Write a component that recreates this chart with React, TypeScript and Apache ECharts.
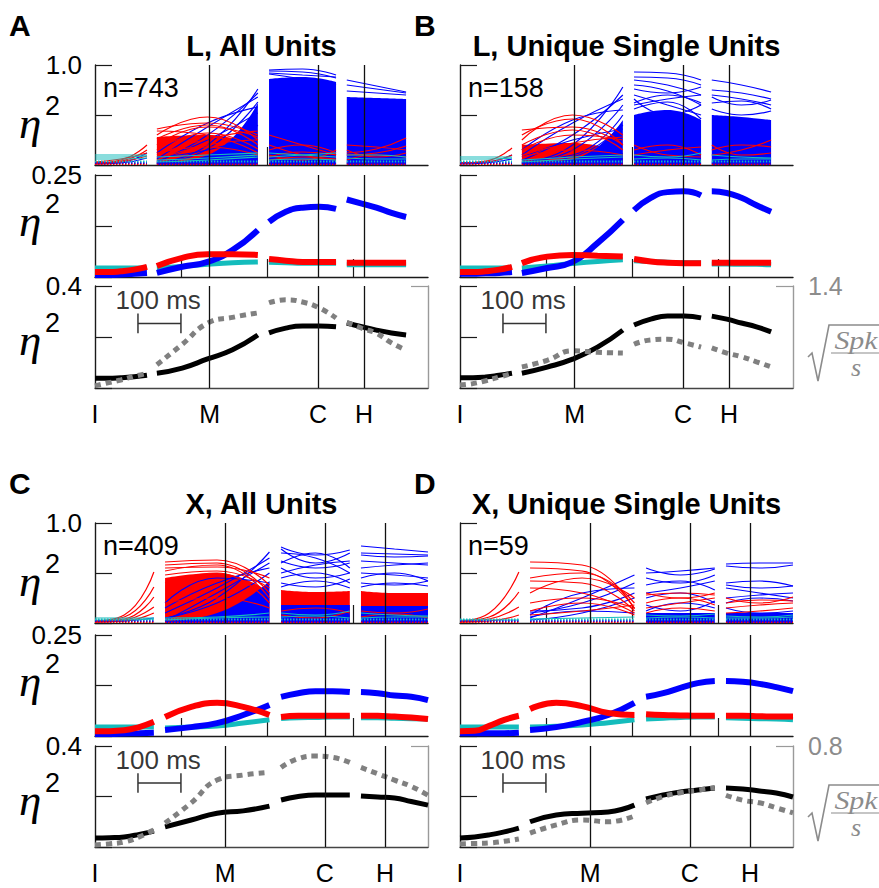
import React, { useEffect, useRef } from 'react';
import * as echarts from 'echarts';

// ---------- axes / sampling positions (ms after I) ----------
const X_MAX = 775;
const X_TICKS = [200, 400, 600];
const L_SEG3 = [[0, 60, 121], [144, 262, 379], [405, 483, 561], [586, 655, 724]];
const X_SEG3 = [[0, 68, 137], [163, 284, 406], [433, 513, 593], [619, 697, 775]];
const L_SEG5 = [[0, 30, 60, 91, 121], [144, 203, 262, 320, 379], [405, 444, 483, 522, 561], [586, 621, 655, 690, 724]];
const X_SEG5 = [[0, 34, 68, 103, 137], [163, 224, 284, 345, 406], [433, 473, 513, 553, 593], [619, 658, 697, 736, 775]];
const L_EVENTS = [267, 519, 626];
const X_EVENTS = [303, 535, 675];
const EVENT_NAMES = ['I', 'M', 'C', 'H'];
const Y_MAX = [1.0, 0.25, 0.4];
const Y_TOP_LABELS = ['1.0', '0.25', '0.4'];
const FLOOR_LEVELS = [0.01, 0.022, 0.034];
const SCALE_BAR_X = [100, 200];
const SCALE_BAR_Y = [0.215, 0.253, 0.292];
const SCALE_TEXT_POS = [147, 0.345];

// ---------- Panel A: L, all units ----------
// rows: [segment, start, middle, end]
const aBandRed = [[1, 0.28, 0.3, 0.18]];
const aBandBlue = [[1, 0.02, 0.1, 0.62], [2, 0.86, 0.88, 0.83], [3, 0.68, 0.67, 0.66]];
const aBlue = [
  [0, 0.02, 0.03, 0.12], [0, 0.01, 0.02, 0.07],
  [1, 0.02, 0.2, 0.76], [1, 0.03, 0.3, 0.72], [1, 0.06, 0.38, 0.68], [1, 0.02, 0.16, 0.63], [1, 0.12, 0.42, 0.58], [1, 0.04, 0.25, 0.52], [1, 0.02, 0.06, 0.4], [1, 0.08, 0.15, 0.3],
  [2, 0.95, 0.96, 0.9], [2, 0.94, 0.93, 0.87], [2, 0.92, 0.9, 0.88], [2, 0.91, 0.86, 0.8],
  [3, 0.85, 0.79, 0.73], [3, 0.8, 0.76, 0.72], [3, 0.74, 0.72, 0.7],
];
const aRed = [
  [0, 0.02, 0.05, 0.2], [0, 0.02, 0.04, 0.15], [0, 0.03, 0.06, 0.12], [0, 0.01, 0.03, 0.09],
  [1, 0.3, 0.48, 0.25], [1, 0.36, 0.42, 0.3], [1, 0.26, 0.4, 0.2], [1, 0.2, 0.38, 0.28], [1, 0.15, 0.32, 0.16], [1, 0.1, 0.26, 0.34], [1, 0.05, 0.2, 0.25], [1, 0.34, 0.3, 0.12], [1, 0.12, 0.18, 0.1],
  [2, 0.3, 0.2, 0.1], [2, 0.15, 0.2, 0.12], [2, 0.1, 0.05, 0.15], [2, 0.08, 0.13, 0.1], [2, 0.2, 0.1, 0.05], [2, 0.05, 0.08, 0.06],
  [3, 0.12, 0.16, 0.27], [3, 0.2, 0.18, 0.15], [3, 0.1, 0.12, 0.19], [3, 0.05, 0.1, 0.08], [3, 0.15, 0.08, 0.12],
];
const aCyan = [
  [0, 0.1, 0.1, 0.1], [0, 0.08, 0.08, 0.09], [0, 0.06, 0.06, 0.07],
  [1, 0.05, 0.07, 0.1], [1, 0.08, 0.1, 0.12], [1, 0.03, 0.05, 0.08],
  [2, 0.12, 0.1, 0.08], [2, 0.08, 0.1, 0.12], [2, 0.05, 0.06, 0.05],
  [3, 0.1, 0.1, 0.08], [3, 0.07, 0.06, 0.06],
];
const aMidBlue = [[0.005, 0.005, 0.006, 0.008, 0.01], [0.01, 0.025, 0.037, 0.066, 0.115], [0.135, 0.16, 0.17, 0.172, 0.167], [0.19, 0.18, 0.17, 0.157, 0.147]];
const aMidRed = [[0.012, 0.012, 0.014, 0.018, 0.025], [0.027, 0.047, 0.056, 0.056, 0.054], [0.044, 0.04, 0.037, 0.037, 0.037], [0.035, 0.035, 0.035, 0.035, 0.035]];
const aMidCyan = [[0.022, 0.022, 0.022, 0.022, 0.022], [0.022, 0.026, 0.031, 0.035, 0.037], [0.036, 0.035, 0.034, 0.034, 0.034], [0.03, 0.03, 0.03, 0.03, 0.03]];
const aBlack = [[0.038, 0.038, 0.04, 0.044, 0.05], [0.058, 0.078, 0.114, 0.15, 0.208], [0.216, 0.235, 0.243, 0.243, 0.24], [0.255, 0.24, 0.227, 0.216, 0.208]];
const aGray = [[0.03, 0.07, 0.11, 0.16, 0.2], [0.32, 0.6, 0.89, 0.97, 1.03], [1.17, 1.21, 1.18, 1.1, 0.96], [0.9, 0.82, 0.75, 0.62, 0.52]];

// ---------- Panel B: L, unique single units ----------
const bBandRed = [[1, 0.2, 0.22, 0.12]];
const bBandBlue = [[1, 0.02, 0.06, 0.45], [2, 0.5, 0.55, 0.45], [3, 0.5, 0.48, 0.45]];
const bBlue = [
  [0, 0.02, 0.03, 0.1], [0, 0.01, 0.02, 0.06],
  [1, 0.02, 0.2, 0.78], [1, 0.05, 0.3, 0.7], [1, 0.1, 0.42, 0.66], [1, 0.03, 0.15, 0.6], [1, 0.05, 0.1, 0.5], [1, 0.15, 0.45, 0.55], [1, 0.02, 0.08, 0.4], [1, 0.08, 0.25, 0.36],
  [2, 0.93, 0.92, 0.85], [2, 0.88, 0.87, 0.8], [2, 0.85, 0.8, 0.7], [2, 0.8, 0.74, 0.6], [2, 0.76, 0.72, 0.78], [2, 0.7, 0.6, 0.5], [2, 0.6, 0.66, 0.7], [2, 0.66, 0.5, 0.6], [2, 0.56, 0.63, 0.46], [2, 0.62, 0.7, 0.62],
  [3, 0.85, 0.8, 0.73], [3, 0.75, 0.72, 0.66], [3, 0.68, 0.6, 0.65], [3, 0.62, 0.64, 0.56], [3, 0.56, 0.5, 0.54], [3, 0.7, 0.66, 0.6],
];
const bRed = [
  [0, 0.02, 0.04, 0.17], [0, 0.02, 0.03, 0.1],
  [1, 0.3, 0.46, 0.2], [1, 0.25, 0.5, 0.3], [1, 0.35, 0.38, 0.2], [1, 0.2, 0.35, 0.15], [1, 0.15, 0.3, 0.25], [1, 0.1, 0.22, 0.28], [1, 0.08, 0.15, 0.1],
  [2, 0.15, 0.2, 0.1], [2, 0.1, 0.15, 0.18], [2, 0.2, 0.1, 0.08],
  [3, 0.15, 0.2, 0.18], [3, 0.1, 0.15, 0.25], [3, 0.2, 0.1, 0.12],
];
const bCyan = [
  [0, 0.08, 0.08, 0.08], [0, 0.06, 0.06, 0.07],
  [1, 0.05, 0.08, 0.1], [1, 0.03, 0.06, 0.08],
  [2, 0.1, 0.08, 0.12], [2, 0.06, 0.07, 0.05],
  [3, 0.1, 0.08, 0.07], [3, 0.05, 0.06, 0.06],
];
const bMidBlue = [[0.008, 0.008, 0.009, 0.01, 0.012], [0.01, 0.022, 0.037, 0.083, 0.14], [0.164, 0.194, 0.208, 0.21, 0.2], [0.21, 0.206, 0.194, 0.176, 0.16]];
const bMidRed = [[0.012, 0.012, 0.014, 0.018, 0.025], [0.034, 0.05, 0.054, 0.052, 0.05], [0.044, 0.038, 0.035, 0.034, 0.034], [0.035, 0.035, 0.035, 0.035, 0.035]];
const bMidCyan = [[0.022, 0.022, 0.022, 0.022, 0.022], [0.022, 0.027, 0.033, 0.038, 0.042], [0.04, 0.038, 0.036, 0.035, 0.035], [0.032, 0.032, 0.031, 0.031, 0.03]];
const bBlack = [[0.04, 0.04, 0.043, 0.05, 0.058], [0.058, 0.082, 0.113, 0.16, 0.227], [0.247, 0.27, 0.282, 0.282, 0.275], [0.282, 0.27, 0.255, 0.24, 0.22]];
const bGray = [[0.04, 0.06, 0.1, 0.15, 0.2], [0.29, 0.38, 0.51, 0.49, 0.48], [0.6, 0.66, 0.67, 0.62, 0.56], [0.55, 0.48, 0.43, 0.36, 0.29]];

// ---------- Panel C: X, all units ----------
const cBandRed = [[1, 0.45, 0.5, 0.3], [2, 0.33, 0.31, 0.32], [3, 0.32, 0.3, 0.3]];
const cBandBlue = [[1, 0.02, 0.1, 0.42], [2, 0.18, 0.18, 0.18], [3, 0.17, 0.17, 0.17]];
const cBlue = [
  [0, 0.01, 0.02, 0.05],
  [1, 0.05, 0.25, 0.71], [1, 0.1, 0.35, 0.65], [1, 0.02, 0.3, 0.6], [1, 0.15, 0.4, 0.55], [1, 0.05, 0.2, 0.5], [1, 0.2, 0.45, 0.4],
  [2, 0.76, 0.68, 0.73], [2, 0.74, 0.6, 0.7], [2, 0.7, 0.65, 0.5], [2, 0.62, 0.55, 0.6], [2, 0.6, 0.7, 0.55], [2, 0.55, 0.45, 0.5], [2, 0.5, 0.58, 0.62], [2, 0.45, 0.5, 0.4], [2, 0.4, 0.36, 0.44], [2, 0.36, 0.42, 0.35],
  [3, 0.77, 0.74, 0.71], [3, 0.7, 0.69, 0.68], [3, 0.68, 0.66, 0.67], [3, 0.62, 0.6, 0.58], [3, 0.55, 0.58, 0.6], [3, 0.5, 0.48, 0.45], [3, 0.45, 0.5, 0.42], [3, 0.4, 0.38, 0.42], [3, 0.36, 0.4, 0.37],
];
const cRed = [
  [0, 0.02, 0.08, 0.51], [0, 0.02, 0.06, 0.36], [0, 0.02, 0.04, 0.26], [0, 0.01, 0.03, 0.16], [0, 0.01, 0.02, 0.1],
  [1, 0.61, 0.63, 0.38], [1, 0.58, 0.6, 0.3], [1, 0.55, 0.56, 0.45], [1, 0.52, 0.58, 0.25], [1, 0.48, 0.52, 0.35], [1, 0.4, 0.5, 0.2], [1, 0.2, 0.25, 0.15],
  [2, 0.12, 0.15, 0.1], [2, 0.08, 0.05, 0.12],
  [3, 0.12, 0.1, 0.14], [3, 0.06, 0.09, 0.05],
];
const cCyan = [
  [0, 0.05, 0.05, 0.05], [0, 0.03, 0.03, 0.04],
  [1, 0.05, 0.06, 0.1], [1, 0.03, 0.05, 0.06],
  [2, 0.1, 0.08, 0.12], [2, 0.06, 0.07, 0.05],
  [3, 0.1, 0.08, 0.07], [3, 0.05, 0.06, 0.06],
];
const cMidBlue = [[0.005, 0.005, 0.006, 0.007, 0.008], [0.015, 0.022, 0.032, 0.052, 0.077], [0.097, 0.106, 0.111, 0.111, 0.109], [0.109, 0.106, 0.1, 0.097, 0.089]];
const cMidRed = [[0.012, 0.012, 0.014, 0.022, 0.035], [0.047, 0.072, 0.082, 0.072, 0.052], [0.047, 0.05, 0.05, 0.05, 0.05], [0.05, 0.05, 0.048, 0.046, 0.042]];
const cMidCyan = [[0.022, 0.022, 0.022, 0.022, 0.022], [0.02, 0.022, 0.025, 0.032, 0.04], [0.043, 0.045, 0.046, 0.047, 0.047], [0.045, 0.045, 0.044, 0.043, 0.042]];
const cBlack = [[0.036, 0.037, 0.04, 0.05, 0.063], [0.08, 0.107, 0.134, 0.143, 0.162], [0.186, 0.2, 0.206, 0.206, 0.206], [0.202, 0.198, 0.194, 0.18, 0.166]];
const cGray = [[0.016, 0.025, 0.04, 0.08, 0.135], [0.19, 0.35, 0.53, 0.57, 0.59], [0.63, 0.7, 0.72, 0.71, 0.67], [0.63, 0.58, 0.53, 0.48, 0.41]];

// ---------- Panel D: X, unique single units ----------
const dBandRed: number[][] = [];
const dBandBlue = [[2, 0.1, 0.1, 0.1], [3, 0.1, 0.1, 0.1]];
const dBlue = [
  [1, 0.05, 0.25, 0.48], [1, 0.1, 0.2, 0.4], [1, 0.08, 0.3, 0.35], [1, 0.12, 0.15, 0.3], [1, 0.03, 0.1, 0.25], [1, 0.06, 0.12, 0.1],
  [2, 0.55, 0.48, 0.54], [2, 0.5, 0.52, 0.55], [2, 0.45, 0.4, 0.48], [2, 0.38, 0.42, 0.33], [2, 0.3, 0.35, 0.42], [2, 0.25, 0.3, 0.2], [2, 0.18, 0.12, 0.22], [2, 0.12, 0.2, 0.15],
  [3, 0.59, 0.6, 0.6], [3, 0.57, 0.55, 0.58], [3, 0.4, 0.42, 0.37], [3, 0.38, 0.35, 0.37], [3, 0.35, 0.3, 0.25], [3, 0.25, 0.28, 0.3], [3, 0.2, 0.25, 0.22], [3, 0.15, 0.1, 0.12],
];
const dRed = [
  [0, 0.02, 0.1, 0.51], [0, 0.02, 0.06, 0.31], [0, 0.01, 0.04, 0.16], [0, 0.01, 0.02, 0.08],
  [1, 0.61, 0.58, 0.14], [1, 0.55, 0.52, 0.15], [1, 0.45, 0.5, 0.2], [1, 0.42, 0.4, 0.12], [1, 0.3, 0.45, 0.25], [1, 0.35, 0.3, 0.1], [1, 0.2, 0.25, 0.15], [1, 0.12, 0.2, 0.08], [1, 0.08, 0.12, 0.18],
  [2, 0.3, 0.25, 0.3], [2, 0.28, 0.3, 0.28], [2, 0.2, 0.25, 0.18], [2, 0.15, 0.2, 0.25], [2, 0.1, 0.15, 0.12],
  [3, 0.25, 0.2, 0.26], [3, 0.2, 0.23, 0.22], [3, 0.15, 0.18, 0.2], [3, 0.1, 0.12, 0.15],
];
const dCyan = [
  [0, 0.03, 0.03, 0.03], [1, 0.04, 0.05, 0.06], [2, 0.08, 0.07, 0.09], [2, 0.05, 0.06, 0.05], [3, 0.07, 0.06, 0.08], [3, 0.05, 0.05, 0.06],
];
const dMidBlue = [[0.007, 0.007, 0.007, 0.007, 0.008], [0.015, 0.022, 0.035, 0.052, 0.082], [0.097, 0.106, 0.119, 0.131, 0.136], [0.136, 0.134, 0.129, 0.121, 0.111]];
const dMidRed = [[0.012, 0.013, 0.025, 0.04, 0.05], [0.067, 0.082, 0.074, 0.057, 0.052], [0.054, 0.052, 0.051, 0.05, 0.05], [0.05, 0.05, 0.049, 0.048, 0.048]];
const dMidCyan = [[0.022, 0.022, 0.022, 0.022, 0.022], [0.022, 0.024, 0.027, 0.033, 0.04], [0.042, 0.044, 0.046, 0.047, 0.047], [0.045, 0.044, 0.043, 0.042, 0.04]];
const dBlack = [[0.036, 0.04, 0.048, 0.06, 0.075], [0.1, 0.127, 0.134, 0.139, 0.166], [0.19, 0.206, 0.218, 0.226, 0.234], [0.234, 0.23, 0.222, 0.214, 0.198]];
const dGray = [[0.024, 0.028, 0.032, 0.045, 0.063], [0.11, 0.175, 0.214, 0.2, 0.246], [0.35, 0.4, 0.43, 0.45, 0.47], [0.41, 0.37, 0.35, 0.31, 0.27]];

// ---------- panel descriptions ----------
const PANELS = [
  { letter: 'A', title: 'L, All Units', n: 'n=743', col: 0, row: 0, seg3: L_SEG3, seg5: L_SEG5, events: L_EVENTS, rMax: 1.4, rLabel: false,
    bandBlue: aBandBlue, bandRed: aBandRed, blue: aBlue, red: aRed, cyan: aCyan, midBlue: aMidBlue, midRed: aMidRed, midCyan: aMidCyan, black: aBlack, gray: aGray },
  { letter: 'B', title: 'L, Unique Single Units', n: 'n=158', col: 1, row: 0, seg3: L_SEG3, seg5: L_SEG5, events: L_EVENTS, rMax: 1.4, rLabel: true,
    bandBlue: bBandBlue, bandRed: bBandRed, blue: bBlue, red: bRed, cyan: bCyan, midBlue: bMidBlue, midRed: bMidRed, midCyan: bMidCyan, black: bBlack, gray: bGray },
  { letter: 'C', title: 'X, All Units', n: 'n=409', col: 0, row: 1, seg3: X_SEG3, seg5: X_SEG5, events: X_EVENTS, rMax: 0.8, rLabel: false,
    bandBlue: cBandBlue, bandRed: cBandRed, blue: cBlue, red: cRed, cyan: cCyan, midBlue: cMidBlue, midRed: cMidRed, midCyan: cMidCyan, black: cBlack, gray: cGray },
  { letter: 'D', title: 'X, Unique Single Units', n: 'n=59', col: 1, row: 1, seg3: X_SEG3, seg5: X_SEG5, events: X_EVENTS, rMax: 0.8, rLabel: true,
    bandBlue: dBandBlue, bandRed: dBandRed, blue: dBlue, red: dRed, cyan: dCyan, midBlue: dMidBlue, midRed: dMidRed, midCyan: dMidCyan, black: dBlack, gray: dGray },
];

// ---------- layout & style ----------
const COL_LEFT = [95, 460];
const PLOT_W = 333;
const ROW_BOXES = [
  [[65, 100], [175, 102], [286, 102]],
  [[523, 100], [635, 101], [746, 101]],
];
const LETTER_X = [9, 414];
const ETA_OFFSET = [8, -5, 3];
const SANS = '"Liberation Sans", Arial, Helvetica, sans-serif';
const SERIF = '"Liberation Serif", "DejaVu Serif", serif';
const BLUE = '#0000ff';
const RED = '#ff0000';
const CYAN = '#14bcbc';
const GRAY = '#808080';
const AXIS = '#1a1a1a';
const TEXT = '#000';
const RIGHT_GRAY = '#8c8c8c';

const pts = (xs: number[], ys: number[]) => xs.map((x, i) => [x, ys[i]]);

function buildOption() {
  const grid: any[] = [];
  const xAxis: any[] = [];
  const yAxis: any[] = [];
  const series: any[] = [];
  const graphic: any[] = [];

  PANELS.forEach((p, pi) => {
    const left = COL_LEFT[p.col];
    ROW_BOXES[p.row].forEach(([top, h], r) => {
      const gi = pi * 3 + r;
      grid.push({ left, top, width: PLOT_W, height: h, containLabel: false });
      const xVals = [0, ...p.events];
      xAxis.push({
        type: 'value', gridIndex: gi, min: 0, max: X_MAX,
        axisLine: { show: true, onZero: false, lineStyle: { color: r === 2 ? '#444' : AXIS, width: 1.4 } },
        axisTick: { show: r < 2, inside: true, length: 18, customValues: X_TICKS, lineStyle: { color: AXIS, width: 1.2 } },
        axisLabel: {
          show: r === 2, customValues: xVals,
          formatter: (v: number) => { const k = xVals.indexOf(v); return k >= 0 ? EVENT_NAMES[k] : ''; },
          fontSize: 25, fontFamily: SANS, color: TEXT, margin: 13,
        },
        splitLine: { show: false },
      });
      yAxis.push({
        type: 'value', gridIndex: gi, min: 0, max: Y_MAX[r],
        axisLine: { show: true, onZero: false, lineStyle: { color: AXIS, width: 1.4 } },
        axisTick: { show: true, inside: true, length: 17, customValues: [0, Y_MAX[r] / 2, Y_MAX[r]], lineStyle: { color: AXIS, width: 1.2 } },
        axisLabel: {
          show: p.col === 0, customValues: [Y_MAX[r]], formatter: () => Y_TOP_LABELS[r],
          fontSize: 26, fontFamily: SANS, color: TEXT, margin: 13,
        },
        splitLine: { show: false },
      });
      if (p.col === 0) {
        const cy = top + h / 2 + ETA_OFFSET[r];
        graphic.push({ type: 'text', x: left - 76, y: cy, style: { text: 'η', fontSize: 45, fontStyle: 'italic', fontFamily: SERIF, fill: TEXT, align: 'left', verticalAlign: 'middle' } });
        graphic.push({ type: 'text', x: left - 50, y: cy - 17, style: { text: '2', fontSize: 27, fontFamily: SANS, fill: TEXT, align: 'left', verticalAlign: 'middle' } });
      }
    });
  });

  PANELS.forEach((p, pi) => {
    yAxis.push({
      type: 'value', gridIndex: pi * 3 + 2, position: 'right', min: 0, max: p.rMax,
      axisLine: { show: true, onZero: false, lineStyle: { color: '#9a9a9a', width: 1.4 } },
      axisTick: { show: true, inside: true, length: 17, customValues: [p.rMax], lineStyle: { color: '#9a9a9a', width: 1.2 } },
      axisLabel: { show: p.rLabel, customValues: [p.rMax], formatter: () => String(p.rMax), fontSize: 25, fontFamily: SANS, color: RIGHT_GRAY, margin: 15 },
      splitLine: { show: false },
    });
  });

  const base = (gi: number, yi: number = gi) => ({
    type: 'line', xAxisIndex: gi, yAxisIndex: yi, symbol: 'none', showSymbol: false, silent: true, smooth: true,
    emphasis: { disabled: true },
  });

  PANELS.forEach((p, pi) => {
    const gTop = pi * 3;
    const gMid = pi * 3 + 1;
    const gBot = pi * 3 + 2;
    const eventMark = (z: number, gi: number) => ({
      ...base(gi), z, data: [[0, 0]], lineStyle: { width: 0 },
      markLine: {
        symbol: ['none', 'none'], silent: true, label: { show: false },
        lineStyle: { color: '#111', width: 1.3, type: 'solid' },
        emphasis: { disabled: true },
        data: p.events.map((x) => ({ xAxis: x })),
      },
    });
    const seg3Row = (row: number[]) => pts(p.seg3[row[0]], row.slice(1));

    // ----- top: individual units -----
    p.bandRed.forEach((row) => series.push({ ...base(gTop), data: seg3Row(row), lineStyle: { width: 0 }, areaStyle: { color: RED, opacity: 1 } }));
    p.bandBlue.forEach((row) => series.push({ ...base(gTop), data: seg3Row(row), lineStyle: { width: 0 }, areaStyle: { color: BLUE, opacity: 1 } }));
    p.blue.forEach((row) => series.push({ ...base(gTop), data: seg3Row(row), lineStyle: { width: 1.2, color: BLUE } }));
    p.red.forEach((row) => series.push({ ...base(gTop), data: seg3Row(row), lineStyle: { width: 1.2, color: RED } }));
    p.cyan.forEach((row) => series.push({ ...base(gTop), data: seg3Row(row), lineStyle: { width: 1.2, color: CYAN } }));
    const floorColors = [RED, BLUE, CYAN];
    p.seg3.forEach((xs) => {
      FLOOR_LEVELS.forEach((lv, k) => series.push({ ...base(gTop), smooth: false, data: pts(xs, [lv, lv, lv]), lineStyle: { width: 2, color: floorColors[k], type: [1.5, 1.5] } }));
    });
    series.push(eventMark(3, gTop));

    // ----- middle: mean eta^2 -----
    series.push(eventMark(1, gMid));
    const mid = [[p.midCyan, CYAN, 5], [p.midBlue, BLUE, 6], [p.midRed, RED, 6]] as const;
    mid.forEach(([vals, color, w]) => {
      (vals as number[][]).forEach((ys, s) => series.push({ ...base(gMid), data: pts(p.seg5[s], ys), lineStyle: { width: w, color, cap: 'butt' } }));
    });

    // ----- bottom: total eta^2 and rate -----
    series.push(eventMark(1, gBot));
    p.black.forEach((ys, s) => series.push({ ...base(gBot), data: pts(p.seg5[s], ys), lineStyle: { width: 5, color: '#000', cap: 'butt' } }));
    p.gray.forEach((ys, s) => series.push({ ...base(gBot, 12 + pi), data: pts(p.seg5[s], ys), lineStyle: { width: 5, color: GRAY, type: [6, 5], cap: 'butt' } }));
    series.push({
      ...base(gBot), smooth: false,
      data: [
        [SCALE_BAR_X[0], SCALE_BAR_Y[2]], [SCALE_BAR_X[0], SCALE_BAR_Y[0]], [SCALE_BAR_X[0], SCALE_BAR_Y[1]],
        [SCALE_BAR_X[1], SCALE_BAR_Y[1]], [SCALE_BAR_X[1], SCALE_BAR_Y[2]], [SCALE_BAR_X[1], SCALE_BAR_Y[0]],
      ],
      lineStyle: { width: 1.5, color: '#333' },
    });
    series.push({
      type: 'scatter', xAxisIndex: gBot, yAxisIndex: gBot, silent: true, symbolSize: 0,
      data: [SCALE_TEXT_POS],
      label: { show: true, position: 'inside', formatter: '100 ms', fontSize: 26, fontFamily: SANS, color: TEXT },
    });

    // ----- texts -----
    const left = COL_LEFT[p.col];
    const top0 = ROW_BOXES[p.row][0][0];
    graphic.push({ type: 'text', x: LETTER_X[p.col], y: top0 - 40, style: { text: p.letter, fontSize: 30, fontWeight: 'bold', fontFamily: SANS, fill: TEXT, align: 'left', verticalAlign: 'middle' } });
    graphic.push({ type: 'text', x: left + PLOT_W / 2, y: top0 - 19, style: { text: p.title, fontSize: 29, fontWeight: 'bold', fontFamily: SANS, fill: TEXT, align: 'center', verticalAlign: 'middle' } });
    graphic.push({ type: 'text', x: left + 8, y: top0 + 23, style: { text: p.n, fontSize: 27, fontFamily: SANS, fill: TEXT, align: 'left', verticalAlign: 'middle' } });
    if (p.rLabel) {
      const ax = left + PLOT_W;
      const bt = ROW_BOXES[p.row][2][0];
      graphic.push({ type: 'polyline', shape: { points: [[ax + 15, bt + 71], [ax + 19, bt + 67], [ax + 25, bt + 95], [ax + 36, bt + 39], [ax + 88, bt + 39]] }, style: { stroke: RIGHT_GRAY, lineWidth: 1.6, fill: null } });
      graphic.push({ type: 'line', shape: { x1: ax + 38, y1: bt + 67, x2: ax + 87, y2: bt + 67 }, style: { stroke: RIGHT_GRAY, lineWidth: 1.2 } });
      graphic.push({ type: 'text', x: ax + 63, y: bt + 54, scaleX: 1.15, style: { text: 'Spk', fontSize: 26, fontStyle: 'italic', fontFamily: SERIF, fill: RIGHT_GRAY, align: 'center', verticalAlign: 'middle' } });
      graphic.push({ type: 'text', x: ax + 63, y: bt + 81, style: { text: 's', fontSize: 26, fontStyle: 'italic', fontFamily: SERIF, fill: RIGHT_GRAY, align: 'center', verticalAlign: 'middle' } });
    }
  });

  return { animation: false, backgroundColor: '#ffffff', grid, xAxis, yAxis, series, graphic };
}

export default function App() {
  const ref = useRef<HTMLDivElement>(null);
  useEffect(() => {
    if (!ref.current) return;
    const chart = echarts.init(ref.current, undefined, { renderer: 'svg' });
    chart.setOption(buildOption() as any);
    return () => chart.dispose();
  }, []);
  return <div ref={ref} style={{ position: 'absolute', left: 0, top: 0, width: 879, height: 888, background: '#fff' }} />;
}
